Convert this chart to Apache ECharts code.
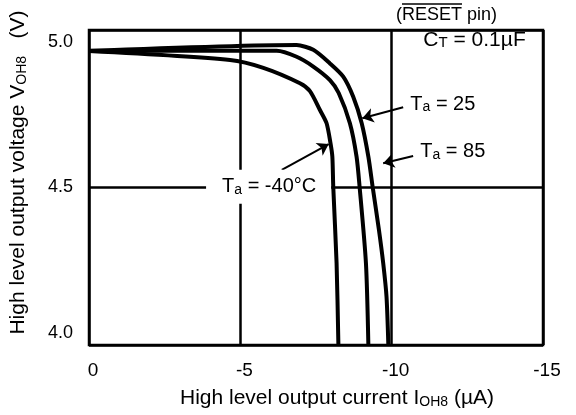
<!DOCTYPE html>
<html><head><meta charset="utf-8">
<script src="https://cdn.jsdelivr.net/npm/echarts@6/dist/echarts.min.js"></script>
<style>html,body{margin:0;padding:0;background:#fff}#c{width:576px;height:415px}</style>
</head><body><div id="c"></div>
<script>
// ---- data ----
const xMin = -15, xMax = 0, xStep = 5;          // I_OH8 (µA)
const yMin = 4.0, yMax = 5.0, yStep = 0.5;      // V_OH8 (V)

const iM40 = [0, -4.66, -5.76, -6.97, -7.30, -7.63, -7.85, -7.98, -8.04, -8.07, -8.18, -8.24];
const vM40 = [4.933, 4.905, 4.880, 4.831, 4.806, 4.746, 4.704, 4.640, 4.598, 4.503, 4.260, 4.000];

const i25 = [0, -6.20, -6.86, -7.41, -7.96, -8.25, -8.62, -8.84, -8.94, -9.15, -9.23];
const v25 = [4.934, 4.934, 4.915, 4.884, 4.841, 4.800, 4.704, 4.598, 4.503, 4.260, 4.000];

const i85 = [0, -6.86, -7.41, -7.96, -8.40, -8.73, -9.01, -9.23, -9.37, -9.58, -9.72, -9.83, -9.89];
const v85 = [4.933, 4.952, 4.937, 4.894, 4.852, 4.788, 4.704, 4.598, 4.503, 4.365, 4.260, 4.153, 4.000];

// annotation anchors (data space)
const labelCT   = [-11.03, 4.968];
const label25   = [-10.60, 4.765];
const label85   = [-10.93, 4.613];
const labelM40  = [-4.38, 4.502];
const arrow25   = [[-10.38, 4.755], [-9.03, 4.720]];
const arrow85   = [[-10.71, 4.600], [-9.72, 4.577]];
const arrowM40  = [[-6.37, 4.556], [-7.92, 4.638]];

// ---- chart ----
const FONT = '"Liberation Sans", Arial, Helvetica, sans-serif';
const pair = (xs, ys) => xs.map((x, i) => [x, ys[i]]);
const mk = (fs, extra) => Object.assign({ fontSize: fs, fontFamily: FONT, color: '#000', verticalAlign: 'bottom' }, extra || {});
const richA = { t: mk(20), s: mk(14) };
const richC = { t: mk(21), s: mk(15) };
const richX = { t: mk(21), s: mk(14) };
const richY = { t: mk(21), s: mk(14, { lineHeight: 30 }) };

const chart = echarts.init(document.getElementById('c'));
const curve = (data) => ({
  type: 'line', data, symbol: 'none', smooth: 0.25, silent: true,
  lineStyle: { color: '#000', width: 4 }, z: 5
});
const textPt = (coord, text, rich, lab) => ({
  coord, symbol: 'rect', symbolSize: 1, itemStyle: { color: 'rgba(0,0,0,0)' },
  label: Object.assign({ show: true, position: 'right', distance: 0, formatter: text, rich }, lab || {})
});
const arrow = (seg) => [{ coord: seg[0] }, { coord: seg[1] }];

// "(RESET pin)" with overline over RESET
const resetFont = '18px "Liberation Sans", Arial, sans-serif';
const mctx = document.createElement('canvas').getContext('2d');
mctx.font = resetFont;
const resetLeft = 396;
const wParen = mctx.measureText('(').width;
const wReset = mctx.measureText('RESET').width;

chart.setOption({
  animation: false,
  grid: { left: 89, right: 33, top: 30, bottom: 70, show: true, borderColor: '#000', borderWidth: 2.5, containLabel: false },
  graphic: [
    { type: 'text', left: resetLeft, top: 6, style: { text: '(RESET pin)', font: resetFont, fill: '#000' } },
    { type: 'line', shape: { x1: resetLeft + wParen, y1: 4, x2: resetLeft + wParen + wReset, y2: 4 }, style: { stroke: '#000', lineWidth: 1.5 } }
  ],
  xAxis: {
    type: 'value', min: xMin, max: xMax, interval: xStep, inverse: true,
    axisLine: { show: false }, axisTick: { show: false },
    splitLine: { show: true, lineStyle: { color: '#000', width: 2.5 } },
    axisLabel: { fontSize: 19, fontFamily: FONT, color: '#000', margin: 16, padding: [0, 0, 0, 8] },
    name: '{t|High level output current I}{s|OH8}{t| (µA)}',
    nameLocation: 'middle', nameGap: 43,
    nameTextStyle: { rich: richX, padding: [0, 0, 0, 42] }
  },
  yAxis: {
    type: 'value', min: yMin, max: yMax, interval: yStep,
    axisLine: { show: false }, axisTick: { show: false },
    splitLine: { show: true, lineStyle: { color: '#000', width: 2.5 } },
    axisLabel: {
      margin: 16, color: '#000',
      formatter: v => {
        const s = v.toFixed(1);
        if (v >= yMax) return '{top|' + s + '}';
        if (v <= yMin) return '{bot|' + s + '}';
        return '{mid|' + s + '}';
      },
      rich: {
        top: { fontSize: 18, fontFamily: FONT, color: '#000', padding: [24, 0, 0, 0] },
        bot: { fontSize: 18, fontFamily: FONT, color: '#000', padding: [0, 0, 24, 0] },
        mid: { fontSize: 18, fontFamily: FONT, color: '#000' }
      }
    },
    name: '{t|High level output voltage V}{s|OH8}{t|   (V)}',
    nameLocation: 'middle', nameGap: 60,
    nameTextStyle: { rich: richY, padding: [0, 0, 0, 30] }
  },
  series: [
    Object.assign(curve(pair(iM40, vM40)), {
      markPoint: {
        silent: true,
        data: [
          textPt(labelCT, '{t|C}{s|T}{t| = 0.1µF}', richC),
          textPt(label25, '{t|T}{s|a}{t| = 25}', richA),
          textPt(label85, '{t|T}{s|a}{t| = 85}', richA),
          textPt(labelM40, '{t|T}{s|a}{t| = -40°C}', richA, { backgroundColor: '#fff', padding: [7, 15, 7, 16], offset: [-16, 0] })
        ]
      },
      markLine: {
        silent: true, symbol: ['none', 'arrow'], symbolSize: 11,
        lineStyle: { color: '#000', width: 2, type: 'solid' },
        label: { show: false },
        data: [arrow(arrow25), arrow(arrow85), arrow(arrowM40)]
      }
    }),
    curve(pair(i25, v25)),
    curve(pair(i85, v85))
  ]
});
</script></body></html>
